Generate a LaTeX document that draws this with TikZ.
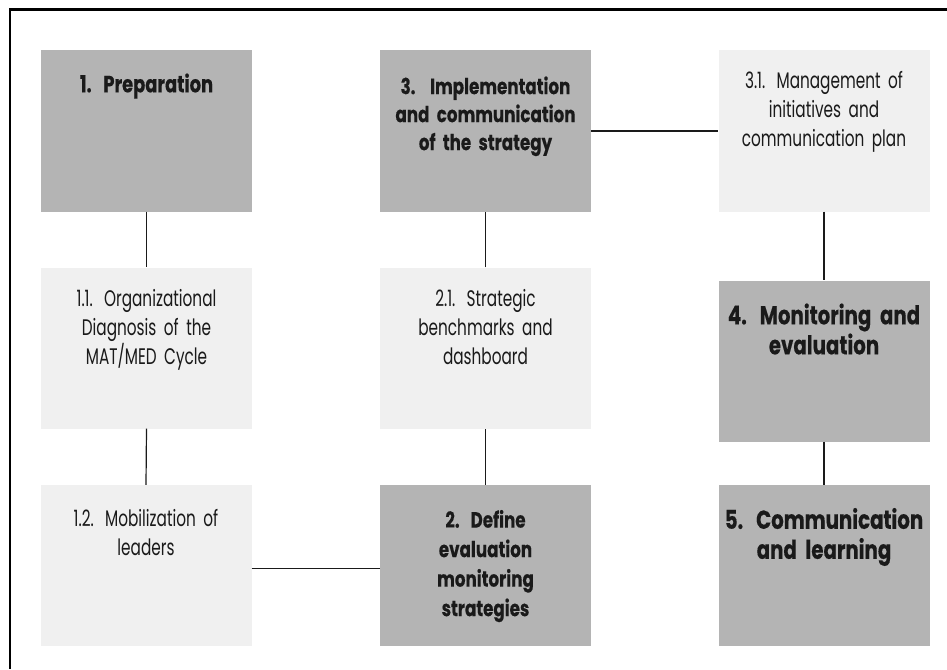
\documentclass[tikz,border=0pt]{standalone}
\usepackage{fontspec}
\setmainfont[FakeStretch=0.76]{Poppins}
\newfontfamily\condf[FakeStretch=0.68]{Poppins}
\newfontfamily\heavyf[FakeStretch=0.76,FakeBold=0.35,UprightFont=* Bold]{Poppins}
\definecolor{darkfill}{HTML}{B4B4B4}
\definecolor{lightfill}{HTML}{F0F0F0}
\definecolor{inkc}{HTML}{1A1A1A}
\begin{document}
\begin{tikzpicture}[x=1pt,y=-1pt,
  box/.style={draw=none,inner sep=0pt,minimum width=211pt,minimum height=161pt},
  darkbox/.style={box,fill=darkfill},
  lightbox/.style={box,fill=lightfill},
  btext/.style={anchor=north,inner sep=0pt,text width=205pt,align=center,text=inkc,
    font=\heavyf\fontsize{23.5}{28.7}\selectfont},
  bmid/.style={btext,font=\heavyf\fontsize{22}{28}\selectfont},
  bmidl/.style={btext,font=\heavyf\fontsize{22}{29.5}\selectfont},
  bbig/.style={btext,font=\heavyf\fontsize{26}{30}\selectfont},
  rtext/.style={anchor=north,inner sep=0pt,text width=205pt,align=center,text=inkc,
    font=\condf\fontsize{22.5}{29}\selectfont},
  conn/.style={draw=inkc,line width=1.2pt},
  frame/.style={draw=black,line width=2.6pt}]
\useasboundingbox (0,0) rectangle (947,669);
\coordinate (fa) at (947,9.5);
\coordinate (fb) at (10,9.5);
\coordinate (fc) at (10,669);
\draw[frame] (fa) -- (fb) -- (fc);
% boxes
\node[darkbox]  (p1)  at (146.5,131) {};
\node[lightbox] (p11) at (146.5,348) {};
\node[lightbox] (p12) at (146,565.5) {};
\node[darkbox]  (p3)  at (485.5,131) {};
\node[lightbox] (p21) at (485.5,348) {};
\node[darkbox]  (p2)  at (485.5,565.5) {};
\node[lightbox] (p31) at (824,131) {};
\node[darkbox]  (p4)  at (824,361) {};
\node[darkbox]  (p5)  at (824,565.5) {};
% texts
\node[btext] (t1)  at ([yshift=-23]p1.north) {1. Preparation};
\node[rtext] (t11) at ([yshift=-22]p11.north) {1.1. Organizational\\Diagnosis of the\\MAT/MED Cycle};
\node[rtext] (t12) at ([yshift=-24]p12.north) {1.2. Mobilization of\\leaders};
\node[bmid]  (t3)  at ([yshift=-26]p3.north) {3.~~Implementation\\and communication\\of the strategy};
\node[rtext] (t21) at ([yshift=-22]p21.north) {2.1. Strategic\\benchmarks and\\dashboard};
\node[bmidl] (t2)  at ([yshift=-25]p2.north) {2. Define\\evaluation\\monitoring\\strategies};
\node[rtext] (t31) at ([yshift=-21]p31.north) {3.1. Management of\\initiatives and\\communication plan};
\node[bbig]  (t4)  at ([yshift=-23]p4.north) {4. Monitoring and\\evaluation};
\node[bbig]  (t5)  at ([yshift=-23]p5.north) {5. Communication\\and learning};
% connectors
\draw[conn] (p1.south) -- (p11.north);
\draw[conn] (p11.south) -- (p12.north);
\draw[conn] ([yshift=-3]p12.east) -- ([yshift=-3]p2.west);
\draw[conn] (p2.north) -- (p21.south);
\draw[conn] (p21.north) -- (p3.south);
\draw[conn] (p3.east) -- (p31.west);
\draw[conn] (p31.south) -- (p4.north);
\draw[conn] (p4.south) -- (p5.north);
\end{tikzpicture}
\end{document}
